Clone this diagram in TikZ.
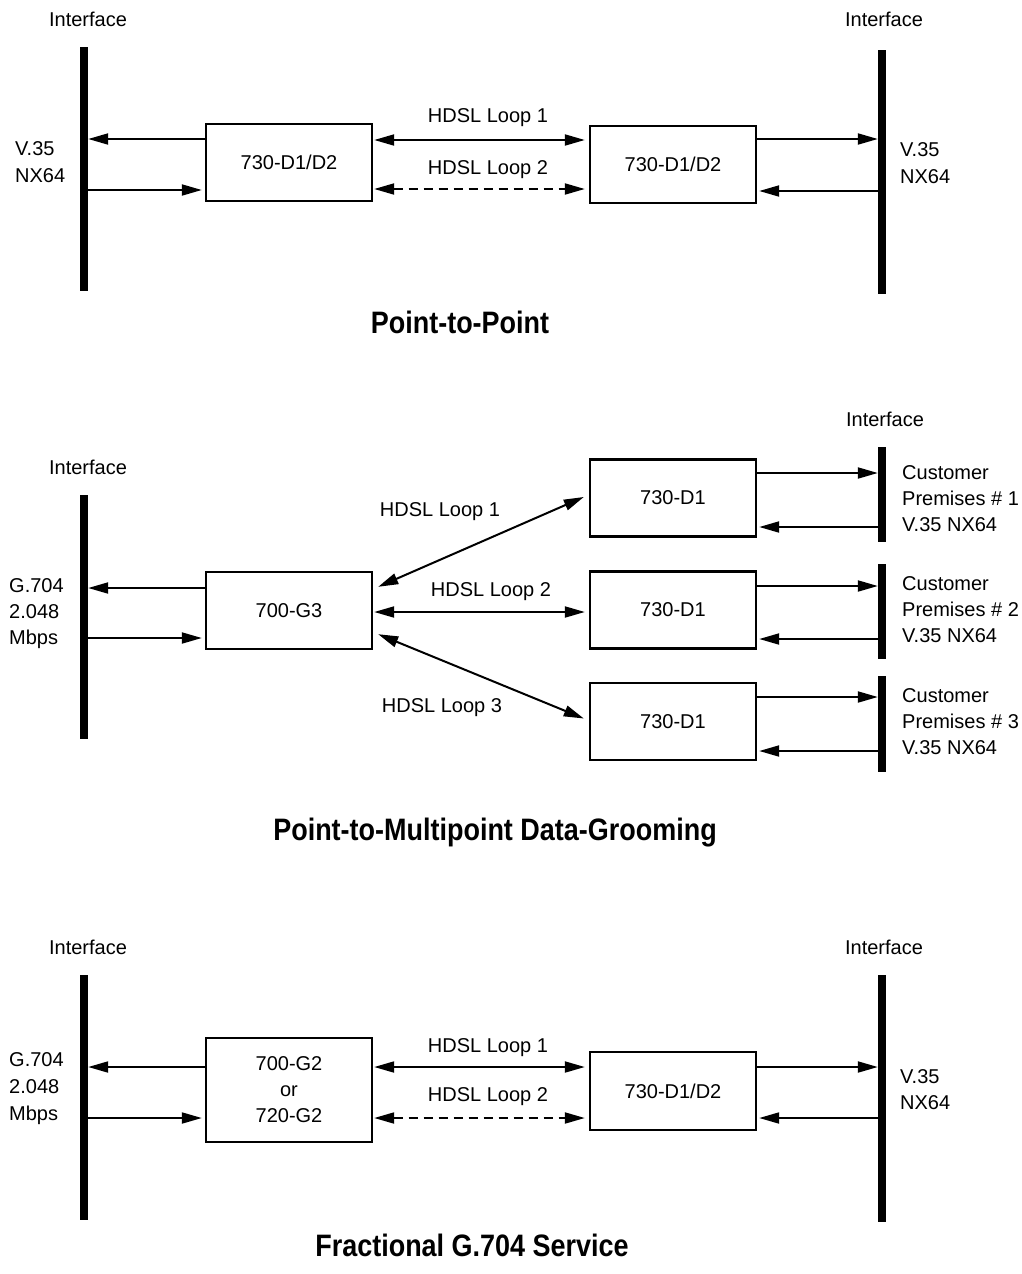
\documentclass[tikz,border=0pt]{standalone}
\usepackage{fontspec}
\setmainfont{Liberation Sans}
\newfontfamily\ttlfont[FakeStretch=0.87]{Liberation Sans}
\usetikzlibrary{arrows.meta,calc}
\begin{document}
\begin{tikzpicture}[x=1pt,y=-1pt,
  every node/.style={font=\fontsize{20}{24}\selectfont, inner sep=0pt},
  box/.style={draw, line width=2.4pt, minimum width=166pt, minimum height=77pt, align=center, font=\fontsize{20}{26}\selectfont},
  bar/.style={fill=black, minimum width=8pt},
  tip/.tip={Triangle[length=20pt,width=11pt]},
  arr/.style={line width=2pt, -tip},
  darr/.style={line width=2pt, tip-tip},
  dsh/.style={dash pattern=on 9pt off 6pt},
  ttl/.style={font=\ttlfont\bfseries\fontsize{31}{36}\selectfont},
  side/.style={anchor=west, align=left}]
\useasboundingbox (0,0) rectangle (1021,1274);
\fill[white] (0,0) rectangle (1021,1274);

% ---------------- Section 1: Point-to-Point ----------------
\node (if1l) at (88,19) {Interface};
\node (if1r) at (884,19) {Interface};
\node[bar, minimum height=244pt] (L1) at (84,169) {};
\node[bar, minimum height=244pt] (R1) at (882,172) {};
\node[box] (A1) at (289,162.5) {730-D1/D2};
\node[box] (B1) at (673,164.5) {730-D1/D2};
\draw[arr] (A1.west |- 0,139) -- (L1.east |- 0,139);
\draw[arr, shorten >=3pt] (L1.east |- 0,190) -- (A1.west |- 0,190);
\draw[arr] (B1.east |- 0,139) -- (R1.west |- 0,139);
\draw[arr, shorten >=2pt] (R1.west |- 0,191) -- (B1.east |- 0,191);
\draw[darr, shorten >=4pt, shorten <=1pt] (A1.east |- 0,140) -- (B1.west |- 0,140);
\draw[darr, dsh, shorten >=4pt, shorten <=1pt] (A1.east |- 0,189) -- (B1.west |- 0,189);
\node (h11) at (488,118) {HDSL Loop 1};
\node (h12) at (488,170) {HDSL Loop 2};
\node[side, font=\fontsize{20}{27}\selectfont] (s1l) at (15,162) {V.35\\NX64};
\node[side, font=\fontsize{20}{27}\selectfont] (s1r) at (900,163) {V.35\\NX64};
\node[ttl] (t1) at (460,322) {Point-to-Point};

% ---------------- Section 2: Point-to-Multipoint ----------------
\node (if2l) at (88,467) {Interface};
\node (if2r) at (885,419) {Interface};
\node[bar, minimum height=244pt] (L2) at (84,617) {};
\node[box] (G3) at (289,610.5) {700-G3};
\node[box] (D1a) at (673,498) {730-D1};
\node[box] (D1b) at (673,610) {730-D1};
\node[box] (D1c) at (673,721.5) {730-D1};
\node[bar, minimum height=95pt] (R2a) at (882,494.5) {};
\node[bar, minimum height=95pt] (R2b) at (882,611.5) {};
\node[bar, minimum height=96pt] (R2c) at (882,724) {};
\draw[arr] (G3.west |- 0,588) -- (L2.east |- 0,588);
\draw[arr, shorten >=3pt] (L2.east |- 0,638) -- (G3.west |- 0,638);
\draw[arr] (D1a.east |- 0,473) -- (R2a.west |- 0,473);
\draw[arr, shorten >=2pt] (R2a.west |- 0,527) -- (D1a.east |- 0,527);
\draw[arr] (D1b.east |- 0,586) -- (R2b.west |- 0,586);
\draw[arr, shorten >=2pt] (R2b.west |- 0,639) -- (D1b.east |- 0,639);
\draw[arr] (D1c.east |- 0,697) -- (R2c.west |- 0,697);
\draw[arr, shorten >=2pt] (R2c.west |- 0,751) -- (D1c.east |- 0,751);
\draw[darr] ($(G3.north east)+(5,16)$) -- ($(D1a.west)+(-5,-1)$);
\draw[darr, shorten >=4pt, shorten <=1pt] (G3.east |- 0,612) -- (D1b.west |- 0,612);
\draw[darr] ($(G3.south east)+(5,-16)$) -- ($(D1c.west)+(-5,-3)$);
\node (h21) at (440,512) {HDSL Loop 1};
\node (h22) at (491,592) {HDSL Loop 2};
\node (h23) at (442,708) {HDSL Loop 3};
\node[side, font=\fontsize{20}{26}\selectfont] (s2l) at (9,614) {G.704\\2.048\\Mbps};
\node[side, font=\fontsize{20}{26}\selectfont] (c1) at (902,499) {Customer\\Premises \# 1\\V.35 NX64};
\node[side, font=\fontsize{20}{26}\selectfont] (c2) at (902,610) {Customer\\Premises \# 2\\V.35 NX64};
\node[side, font=\fontsize{20}{26}\selectfont] (c3) at (902,722) {Customer\\Premises \# 3\\V.35 NX64};
\node[ttl] (t2) at (495,833) {Point-to-Multipoint Data-Grooming};

% ---------------- Section 3: Fractional G.704 ----------------
\node (if3l) at (88,947) {Interface};
\node (if3r) at (884,947) {Interface};
\node[bar, minimum height=245pt] (L3) at (84,1097.5) {};
\node[bar, minimum height=247pt] (R3) at (882,1098.5) {};
\node[box, minimum height=104pt] (C1) at (289,1090) {700-G2\\or\\720-G2};
\node[box, minimum height=78pt] (C2) at (673,1091) {730-D1/D2};
\draw[arr] (C1.west |- 0,1067) -- (L3.east |- 0,1067);
\draw[arr, shorten >=3pt] (L3.east |- 0,1118) -- (C1.west |- 0,1118);
\draw[arr] (C2.east |- 0,1067) -- (R3.west |- 0,1067);
\draw[arr, shorten >=2pt] (R3.west |- 0,1118) -- (C2.east |- 0,1118);
\draw[darr, shorten >=4pt, shorten <=1pt] (C1.east |- 0,1067) -- (C2.west |- 0,1067);
\draw[darr, dsh, shorten >=4pt, shorten <=1pt] (C1.east |- 0,1118) -- (C2.west |- 0,1118);
\node (h31) at (488,1048) {HDSL Loop 1};
\node (h32) at (488,1097) {HDSL Loop 2};
\node[side, font=\fontsize{20}{27}\selectfont] (s3l) at (9,1089) {G.704\\2.048\\Mbps};
\node[side, font=\fontsize{20}{26}\selectfont] (s3r) at (900,1090) {V.35\\NX64};
\node[ttl] (t3) at (472,1245) {Fractional G.704 Service};
\end{tikzpicture}
\end{document}
